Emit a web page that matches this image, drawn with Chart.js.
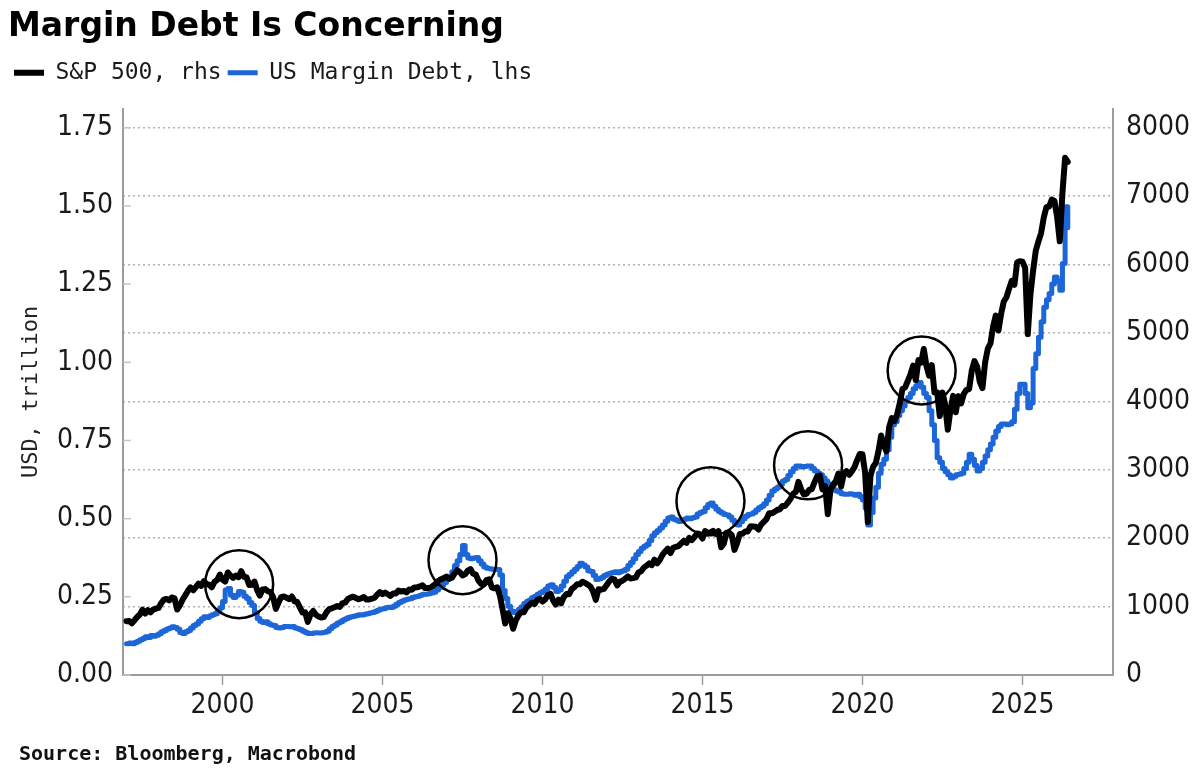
<!DOCTYPE html>
<html>
<head>
<meta charset="utf-8">
<script src="https://cdn.jsdelivr.net/npm/chart.js@4.4.1/dist/chart.umd.min.js"></script>
<style>
  html, body { margin: 0; padding: 0; background: #fff; }
  canvas { display: block; }
</style>
</head>
<body>
<canvas id="myChart" width="1200" height="776"></canvas>
<script>
// monthly values, first one is Jan 1997
var startYear = 1997;

// S&P 500 index level (right axis)
var spx = [
  786, 791, 757, 801, 848, 885, 954, 899, 947, 915, 955, 970,
  980, 1049, 1102, 1112, 1091, 1134, 1121, 957, 1017, 1099, 1164, 1229,
  1280, 1238, 1286, 1335, 1302, 1373, 1329, 1320, 1283, 1363, 1389, 1469,
  1394, 1366, 1499, 1452, 1421, 1455, 1431, 1518, 1437, 1429, 1315, 1320,
  1366, 1240, 1160, 1249, 1256, 1224, 1211, 1134, 966, 1060, 1139, 1148,
  1130, 1107, 1147, 1077, 1067, 990, 912, 916, 777, 886, 936, 880,
  856, 841, 848, 917, 964, 975, 990, 1008, 996, 1051, 1058, 1112,
  1131, 1145, 1126, 1107, 1121, 1141, 1102, 1104, 1115, 1130, 1174, 1212,
  1181, 1204, 1181, 1157, 1192, 1191, 1234, 1220, 1229, 1207, 1249, 1248,
  1280, 1281, 1295, 1311, 1270, 1270, 1277, 1304, 1336, 1378, 1401, 1418,
  1438, 1407, 1421, 1482, 1531, 1503, 1455, 1474, 1527, 1549, 1481, 1468,
  1379, 1331, 1323, 1386, 1400, 1280, 1267, 1283, 1166, 969, 752, 903,
  826, 676, 798, 873, 919, 919, 987, 1021, 1057, 1036, 1096, 1115,
  1074, 1104, 1169, 1187, 1089, 1031, 1102, 1049, 1141, 1183, 1181, 1258,
  1286, 1327, 1326, 1364, 1345, 1321, 1292, 1219, 1099, 1253, 1247, 1258,
  1312, 1366, 1408, 1398, 1310, 1362, 1379, 1407, 1441, 1412, 1416, 1426,
  1498, 1515, 1569, 1598, 1631, 1606, 1686, 1633, 1682, 1757, 1806, 1848,
  1783, 1859, 1872, 1884, 1924, 1960, 1931, 2003, 1972, 2018, 2068, 2059,
  1995, 2105, 2068, 2086, 2107, 2063, 2104, 1867, 1920, 2079, 2080, 2044,
  1829, 1932, 2060, 2065, 2097, 2099, 2174, 2171, 2168, 2126, 2199, 2239,
  2279, 2364, 2363, 2384, 2412, 2423, 2470, 2472, 2519, 2575, 2648, 2674,
  2824, 2714, 2641, 2648, 2705, 2718, 2816, 2902, 2914, 2712, 2760, 2351,
  2704, 2784, 2834, 2946, 2752, 2942, 2980, 2926, 2977, 3038, 3141, 3231,
  3226, 2954, 2237, 2912, 3044, 3100, 3271, 3500, 3363, 3270, 3622, 3756,
  3714, 3811, 3973, 4181, 4204, 4298, 4395, 4523, 4308, 4605, 4567, 4766,
  4516, 4374, 4530, 4132, 4132, 3785, 4130, 3955, 3586, 3872, 4080, 3840,
  4077, 3970, 4109, 4169, 4180, 4450, 4589, 4508, 4288, 4194, 4568, 4770,
  4846, 5096, 5254, 5036, 5278, 5460, 5522, 5648, 5762, 5705, 6032, 6050,
  6041, 5955, 4982, 5569, 5912, 6205, 6339, 6460, 6688, 6840, 6849, 6950,
  6930, 6700, 6340, 7050, 7560, 7500
];

// US margin debt, USD trillion (left axis)
var marginDebt = [
  0.100, 0.102, 0.100, 0.104, 0.108, 0.113, 0.117, 0.122, 0.120, 0.126, 0.124, 0.127,
  0.132, 0.138, 0.142, 0.147, 0.150, 0.154, 0.152, 0.146, 0.136, 0.133, 0.138, 0.142,
  0.150, 0.158, 0.163, 0.172, 0.180, 0.186, 0.184, 0.189, 0.193, 0.196, 0.205, 0.215,
  0.235, 0.272, 0.277, 0.255, 0.248, 0.255, 0.267, 0.265, 0.252, 0.245, 0.232, 0.222,
  0.200, 0.181, 0.172, 0.168, 0.170, 0.164, 0.160, 0.158, 0.152, 0.150, 0.152, 0.155,
  0.155, 0.154, 0.155, 0.150, 0.148, 0.145, 0.140, 0.136, 0.133, 0.133, 0.134, 0.135,
  0.134, 0.135, 0.137, 0.140, 0.148, 0.155, 0.160, 0.166, 0.170, 0.176, 0.180, 0.184,
  0.186, 0.188, 0.190, 0.193, 0.192, 0.194, 0.196, 0.198, 0.200, 0.203, 0.207, 0.210,
  0.212, 0.215, 0.217, 0.216, 0.220, 0.226, 0.232, 0.236, 0.240, 0.242, 0.244, 0.248,
  0.250, 0.252, 0.255, 0.258, 0.258, 0.260, 0.262, 0.265, 0.272, 0.280, 0.288, 0.296,
  0.305, 0.315, 0.330, 0.350, 0.365, 0.385, 0.414, 0.385, 0.374, 0.372, 0.374, 0.376,
  0.365, 0.355, 0.345, 0.341, 0.340, 0.338, 0.337, 0.337, 0.320, 0.270, 0.245, 0.220,
  0.205, 0.200, 0.203, 0.210, 0.218, 0.229, 0.235, 0.240, 0.248, 0.252, 0.258, 0.263,
  0.268, 0.275, 0.285, 0.289, 0.280, 0.267, 0.272, 0.285, 0.300, 0.315, 0.322, 0.330,
  0.338, 0.347, 0.357, 0.352, 0.345, 0.333, 0.331, 0.318, 0.305, 0.308, 0.312, 0.318,
  0.322, 0.325, 0.328, 0.330, 0.327, 0.331, 0.333, 0.338, 0.350, 0.360, 0.372, 0.385,
  0.395, 0.405, 0.412, 0.417, 0.430, 0.445, 0.455, 0.462, 0.470, 0.480, 0.492, 0.502,
  0.505, 0.498, 0.495, 0.491, 0.493, 0.498, 0.502, 0.500, 0.503, 0.505, 0.515, 0.520,
  0.523, 0.535, 0.545, 0.550, 0.540, 0.530, 0.523, 0.518, 0.513, 0.512, 0.505, 0.495,
  0.485, 0.480, 0.490, 0.500, 0.508, 0.513, 0.515, 0.520, 0.528, 0.535, 0.540, 0.548,
  0.560, 0.575, 0.588, 0.595, 0.600, 0.610, 0.620, 0.625, 0.638, 0.650, 0.660, 0.668,
  0.668, 0.665, 0.667, 0.668, 0.668, 0.660, 0.652, 0.646, 0.640, 0.630, 0.620, 0.610,
  0.600, 0.592, 0.588, 0.585, 0.580, 0.578, 0.578, 0.580, 0.578, 0.575, 0.578, 0.570,
  0.560, 0.534, 0.480, 0.520, 0.566, 0.600, 0.645, 0.674, 0.690, 0.720, 0.760, 0.800,
  0.810, 0.830, 0.845, 0.860, 0.875, 0.887, 0.900, 0.915, 0.925, 0.935, 0.920, 0.900,
  0.887, 0.845, 0.800, 0.750, 0.695, 0.680, 0.660, 0.650, 0.640, 0.630, 0.635, 0.640,
  0.642, 0.645, 0.660, 0.680, 0.706, 0.690, 0.670, 0.652, 0.660, 0.680, 0.700, 0.720,
  0.739, 0.760, 0.780, 0.795, 0.803, 0.803, 0.800, 0.803, 0.810, 0.850, 0.900, 0.930,
  0.930, 0.900, 0.855, 0.870, 0.980, 1.027, 1.080, 1.130, 1.176, 1.200, 1.220, 1.250,
  1.273, 1.260, 1.230, 1.316, 1.497, 1.430
];

var yearTicks = [2000, 2005, 2010, 2015, 2020, 2025];
var leftTicks = [0, 0.25, 0.5, 0.75, 1.0, 1.25, 1.5, 1.75];
var rightTicks = [0, 1000, 2000, 3000, 4000, 5000, 6000, 7000, 8000];

// ringed peaks: year and S&P level of each circle centre
var ringYears = [2000.52, 2007.5, 2015.25, 2018.3, 2021.85];
var ringLevels = [1328, 1679, 2540, 3066, 4453];

var rightMax = 8277;
var leftMax = rightMax / (8000 / 1.75);

function monthly(values) {
  return values.map(function(v, i) { return {x: startYear + i / 12, y: v}; });
}

var tickFont = {family: "'DejaVu Sans Condensed', 'DejaVu Sans'", size: 28};
var axisGrey = '#9c9c9c';

// empty box between legend and plot so the plot starts lower
var topGap = {
  id: 'topGap',
  beforeInit: function(chart) {
    Chart.layouts.addBox(chart, {
      position: 'top', weight: 0, fullSize: true, options: {},
      width: 0, height: 0, top: 0, left: 0, right: 0, bottom: 0,
      isHorizontal: function() { return true; },
      update: function(maxWidth) { this.width = maxWidth; this.height = 14.5; },
      draw: function() {}
    });
  }
};

var extras = {
  id: 'extras',
  afterDatasetsDraw: function(chart) {
    var ctx = chart.ctx;
    var xs = chart.scales.x, yr = chart.scales.yR, yl = chart.scales.yL;
    ctx.save();
    // circles around the peaks
    ctx.strokeStyle = '#000';
    ctx.lineWidth = 2.5;
    for (var i = 0; i < ringYears.length; i++) {
      ctx.beginPath();
      ctx.arc(xs.getPixelForValue(ringYears[i]), yr.getPixelForValue(ringLevels[i]), 34, 0, Math.PI * 2);
      ctx.stroke();
    }
    // short inner ticks on the left axis
    ctx.strokeStyle = '#c4c4c4';
    ctx.lineWidth = 1.5;
    yl.ticks.forEach(function(t) {
      var y = yl.getPixelForValue(t.value);
      ctx.beginPath();
      ctx.moveTo(chart.chartArea.left, y);
      ctx.lineTo(chart.chartArea.left + 8, y);
      ctx.stroke();
    });
    ctx.restore();
  },
  afterDraw: function(chart) {
    var ctx = chart.ctx;
    ctx.save();
    ctx.font = "bold 20px 'DejaVu Sans Mono'";
    ctx.fillStyle = '#111';
    ctx.textBaseline = 'middle';
    ctx.fillText('Source: Bloomberg, Macrobond', 19, 755);
    ctx.restore();
  }
};

var ctx = document.getElementById('myChart');
var myChart = new Chart(ctx, {
  type: 'line',
  data: {
    datasets: [
      {
        label: 'S&P 500, rhs',
        data: monthly(spx),
        yAxisID: 'yR',
        borderColor: '#000000',
        backgroundColor: '#000000',
        borderWidth: 6,
        pointRadius: 0,
        borderJoinStyle: 'round',
        borderCapStyle: 'round'
      },
      {
        label: 'US Margin Debt, lhs',
        data: monthly(marginDebt),
        yAxisID: 'yL',
        borderColor: '#1c66d8',
        backgroundColor: '#1c66d8',
        borderWidth: 5,
        pointRadius: 0,
        stepped: 'before',
        borderJoinStyle: 'round',
        borderCapStyle: 'round'
      }
    ]
  },
  options: {
    responsive: false,
    animation: false,
    layout: {padding: {left: 8, right: 0, top: 0, bottom: 0}},
    plugins: {
      title: {
        display: true,
        text: 'Margin Debt Is Concerning',
        align: 'start',
        color: '#000',
        font: {family: "'DejaVu Sans'", size: 33, weight: 'bold', lineHeight: 1.1},
        padding: {top: 9, bottom: 10}
      },
      legend: {
        display: true,
        align: 'start',
        labels: {
          usePointStyle: true,
          pointStyle: 'line',
          pointStyleWidth: 30,
          padding: 6,
          color: '#1a1a1a',
          font: {family: "'DejaVu Sans Mono'", size: 23}
        }
      },
      tooltip: {enabled: false}
    },
    scales: {
      x: {
        type: 'linear',
        min: 1996.89,
        max: 2027.83,
        afterBuildTicks: function(scale) {
          scale.ticks = yearTicks.map(function(v) { return {value: v}; });
        },
        afterFit: function(scale) { scale.height = 101; },
        grid: {drawOnChartArea: false, drawTicks: true, tickLength: 10, tickColor: axisGrey, tickWidth: 1.5},
        border: {display: true, color: axisGrey, width: 2},
        ticks: {
          color: '#1a1a1a',
          font: tickFont,
          padding: 4,
          maxRotation: 0,
          autoSkip: false,
          callback: function(v) { return String(v); }
        }
      },
      yL: {
        type: 'linear',
        position: 'left',
        min: 0,
        max: leftMax,
        afterBuildTicks: function(scale) {
          scale.ticks = leftTicks.map(function(v) { return {value: v}; });
        },
        afterFit: function(scale) { scale.width = 115; },
        grid: {drawOnChartArea: false, drawTicks: false},
        border: {display: true, color: axisGrey, width: 2},
        title: {
          display: true,
          text: 'USD, trillion',
          color: '#222',
          font: {family: "'DejaVu Sans Mono'", size: 22},
          padding: {top: 10, bottom: 0}
        },
        ticks: {
          color: '#1a1a1a',
          font: tickFont,
          padding: 10,
          callback: function(v) { return v.toFixed(2); }
        }
      },
      yR: {
        type: 'linear',
        position: 'right',
        min: 0,
        max: rightMax,
        afterBuildTicks: function(scale) {
          scale.ticks = rightTicks.map(function(v) { return {value: v}; });
        },
        afterFit: function(scale) { scale.width = 87; },
        grid: {drawOnChartArea: true, drawTicks: false, color: '#b2b2b2', lineWidth: 1.5},
        border: {display: true, color: axisGrey, width: 2, dash: [2, 3]},
        ticks: {
          color: '#1a1a1a',
          font: tickFont,
          padding: 13,
          callback: function(v) { return String(v); }
        }
      }
    }
  },
  plugins: [topGap, extras]
});
</script>
</body>
</html>
